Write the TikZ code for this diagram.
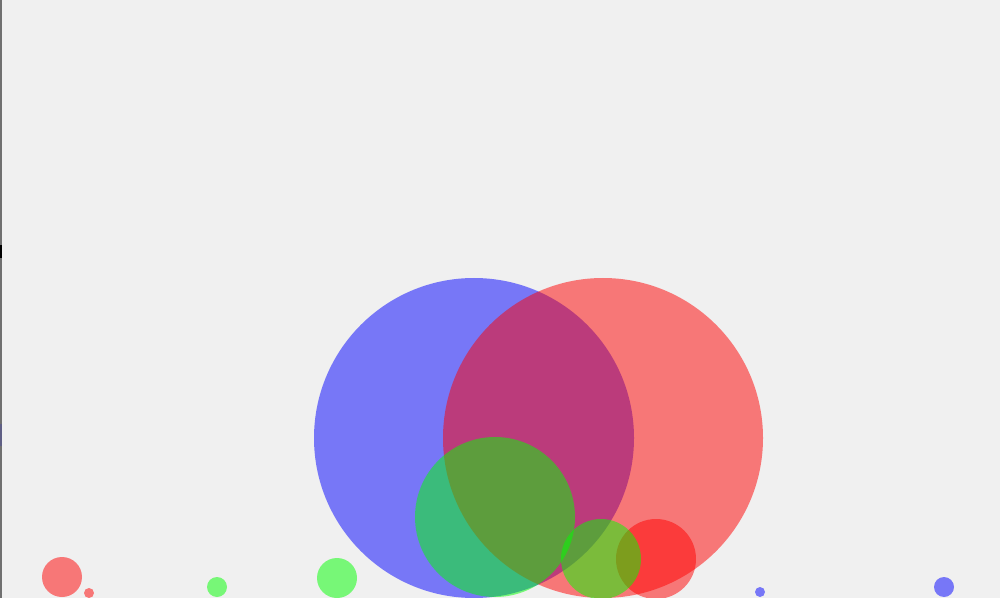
\documentclass[tikz,border=0pt]{standalone}
\usepackage{tikz}
\definecolor{chartBg}{RGB}{240, 240, 240}
\definecolor{axisGray}{RGB}{112, 112, 112}

\begin{document}
\begin{tikzpicture}[
    x=0.5pt, y=-0.5pt,
    bubble/.style={fill opacity=0.5},
    redBubble/.style={bubble, fill=red},
    greenBubble/.style={bubble, fill=green},
    blueBubble/.style={bubble, fill=blue}
  ]
    % Frame and background
    \useasboundingbox (0,0) rectangle (1000,598);
    \fill[chartBg] (0,0) rectangle (1000,598);
    \clip (0,0) rectangle (1000,598);

    % Axis at the left edge
    \fill[axisGray] (0,0) rectangle (1.5,598);
    \fill[black] (0,245) rectangle (2,258);
    \fill[blue!15!axisGray] (0,424) rectangle (1.5,446);

    % Blue series
    \fill[blueBubble] (474,438) circle (160);
    \fill[blueBubble] (760,592) circle (5);
    \fill[blueBubble] (944,587) circle (10);

    % Red series
    \fill[redBubble] (603,438) circle (160);
    \fill[redBubble] (656,559) circle (40);
    \fill[redBubble] (62,577) circle (20);
    \fill[redBubble] (89,593) circle (5);

    % Green series
    \fill[greenBubble] (495,517) circle (80);
    \fill[greenBubble] (601,559) circle (40);
    \fill[greenBubble] (217,587) circle (10);
    \fill[greenBubble] (337,578) circle (20);
  \end{tikzpicture}
\end{document}
